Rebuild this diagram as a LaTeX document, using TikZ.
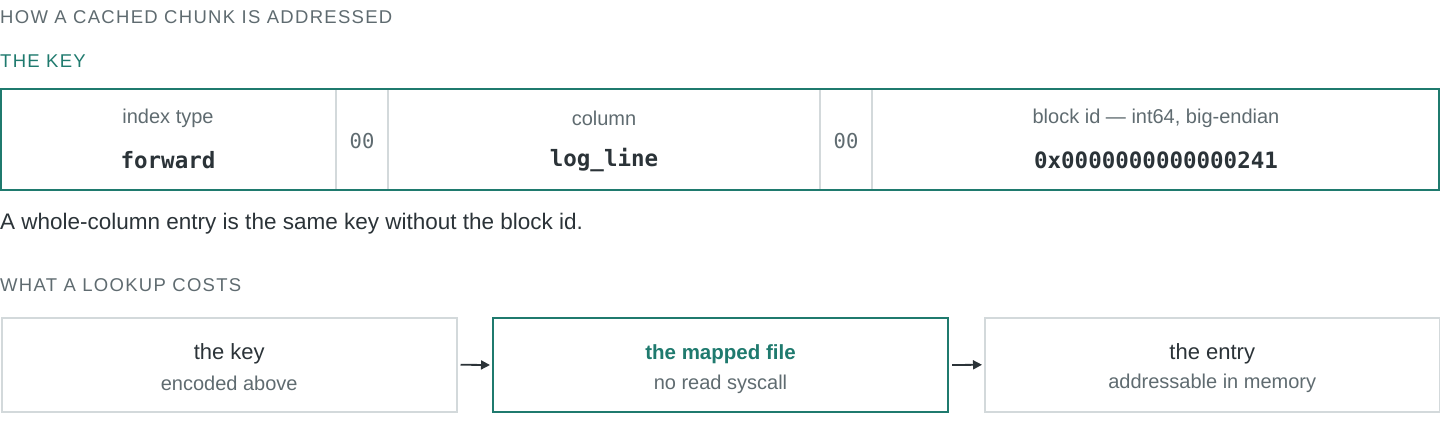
\documentclass[tikz,border=0pt]{standalone}
\usepackage{fontspec}
\setmainfont{Liberation Sans}
\setmonofont{DejaVu Sans Mono}
\newfontfamily\capsfont[LetterSpace=7]{Liberation Sans}
\usetikzlibrary{arrows.meta,positioning}
\definecolor{teal}{HTML}{1F7A6E}
\definecolor{rule}{HTML}{D3D9DB}
\definecolor{ink}{HTML}{2B3338}
\definecolor{muted}{HTML}{5F6B70}
\tikzset{
  heading/.style={anchor=west,inner sep=0pt,font=\capsfont\fontsize{18.5}{22}\selectfont},
  field/.style={inner sep=0pt,text=muted,font=\fontsize{20}{24}\selectfont},
  value/.style={inner sep=0pt,text=ink,font=\ttfamily\bfseries\fontsize{22.5}{26}\selectfont},
  sep/.style={inner sep=0pt,text=muted,font=\ttfamily\fontsize{20.5}{24}\selectfont},
  stage/.style={draw=rule,line width=1.5pt,minimum width=455pt,minimum height=94pt,anchor=north west,inner sep=0pt},
  title/.style={inner sep=0pt,text=ink,font=\fontsize{22}{26}\selectfont},
  note/.style={inner sep=0pt,text=muted,font=\fontsize{20}{24}\selectfont},
  flow/.style={-{Triangle[length=9pt,width=9pt]},line width=1.8pt,draw=ink},
}
\begin{document}
\begin{tikzpicture}[x=1pt,y=-1pt]
  \useasboundingbox (0,0) rectangle (1440,440);
  \node[heading,text=muted] (head) at (0,17) {HOW A CACHED CHUNK IS ADDRESSED};
  \node[heading,text=teal] (keyhead) at (0,61) {THE KEY};

  % the key, field by field
  \draw[rule,line width=1.5pt] (336,89) -- (336,190) (388,89) -- (388,190)
    (820,89) -- (820,190) (872,89) -- (872,190);
  \draw[teal,line width=2pt] (1,89) rectangle (1439,190);
  \node[field] (f1) at (168,118) {index type};
  \node[value] (v1) at (168,160) {forward};
  \node[sep] (s1) at (362,141) {00};
  \node[field] (f2) at (604,118) {column};
  \node[value] (v2) at (604,160) {log\_line};
  \node[sep] (s2) at (846,141) {00};
  \node[field] (f3) at (1156,118) {block id — int64, big-endian};
  \node[value] (v3) at (1156,160) {0x0000000000000241};

  \node[anchor=west,inner sep=0pt,text=ink,font=\fontsize{22.5}{26}\selectfont] (whole) at (0,224)
    {A whole-column entry is the same key without the block id.};
  \node[heading,text=muted] (costhead) at (0,285) {WHAT A LOOKUP COSTS};

  % the lookup chain
  \node[stage] (k) at (1,317) {};
  \node[stage,draw=teal,line width=2pt] (m) at (492,317) {};
  \node[stage] (e) at (984,317) {};
  \node[title] at ([yshift=11pt]k.center) {the key};
  \node[note] at ([yshift=-19pt]k.center) {encoded above};
  \node[title,text=teal,font=\bfseries\fontsize{20.5}{24}\selectfont] at ([yshift=11pt]m.center) {the mapped file};
  \node[note] at ([yshift=-19pt]m.center) {no read syscall};
  \node[title] at ([yshift=11pt]e.center) {the entry};
  \node[note] at ([yshift=-19pt]e.center) {addressable in memory};
  \draw[flow] ([xshift=3pt]k.east) -- ([xshift=-2pt]m.west);
  \draw[flow] ([xshift=3pt]m.east) -- ([xshift=-2pt]e.west);
\end{tikzpicture}
\end{document}
